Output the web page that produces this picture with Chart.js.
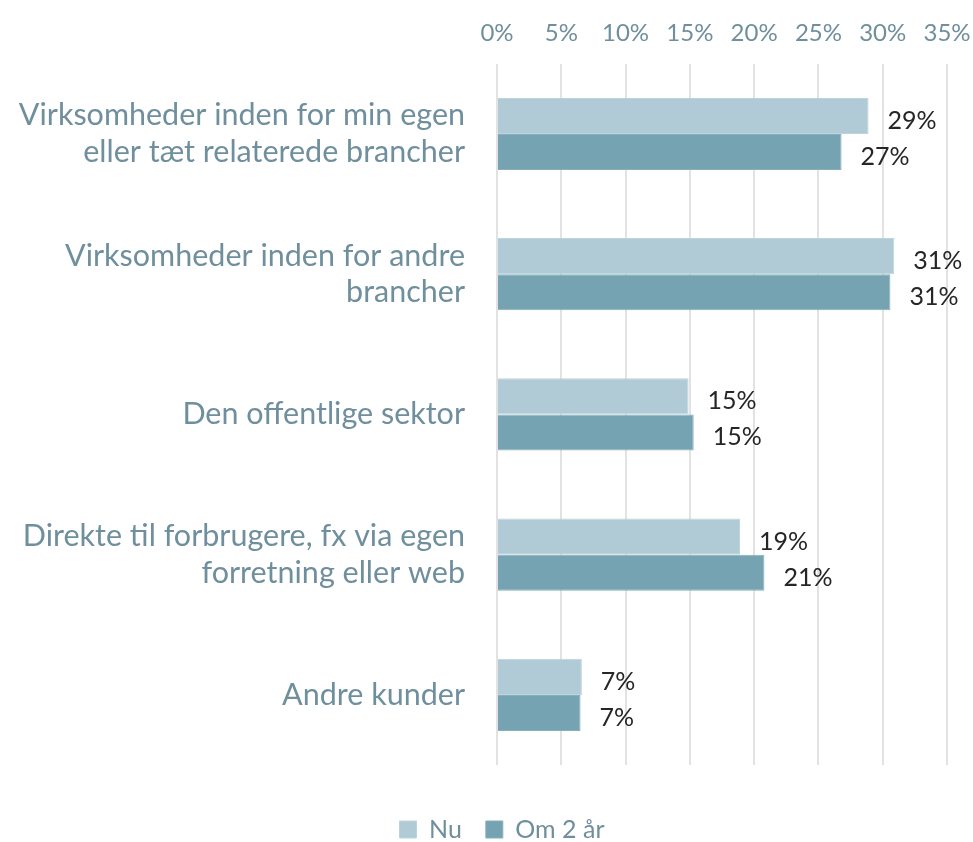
<!DOCTYPE html>
<html>
<head>
<meta charset="utf-8">
<script src="https://cdn.jsdelivr.net/npm/chart.js@4/dist/chart.umd.min.js"></script>
<style>
html,body{margin:0;padding:0;background:#fff;}
#wrap{width:973px;height:842px;position:relative;}
</style>
</head>
<body>
<div id="wrap"><canvas id="c" width="973" height="842"></canvas></div>
<script>
const categories = [
  ["Virksomheder inden for min egen", "eller tæt relaterede brancher"],
  ["Virksomheder inden for andre", "brancher"],
  "Den offentlige sektor",
  ["Direkte til forbrugere, fx via egen", "forretning eller web"],
  "Andre kunder"
];
const seriesNames = ["Nu", "Om 2 år"];
const nuValues = [28.9, 30.9, 14.9, 18.9, 6.6];
const om2Values = [26.8, 30.6, 15.3, 20.8, 6.5];
const nuLabels = ["29%", "31%", "15%", "19%", "7%"];
const om2Labels = ["27%", "31%", "15%", "21%", "7%"];
const tickValues = [0, 5, 10, 15, 20, 25, 30, 35];

const FONT = "Lato, 'Open Sans', sans-serif";
const labelColor = "#6f8f9d";

const barLabels = {
  id: 'barLabels',
  afterDatasetsDraw(chart) {
    const ctx = chart.ctx;
    const texts = [nuLabels, om2Labels];
    ctx.save();
    ctx.font = "25px " + FONT;
    ctx.fillStyle = "#262626";
    ctx.textAlign = "left";
    ctx.textBaseline = "middle";
    chart.data.datasets.forEach((ds, di) => {
      const meta = chart.getDatasetMeta(di);
      meta.data.forEach((el, i) => {
        ctx.fillText(texts[di][i], el.x + 19, el.y + 5);
      });
    });
    ctx.restore();
  }
};

const legendSpace = {
  id: 'legendSpace',
  afterInit(chart) {
    const lg = chart.legend;
    if (!lg) return;
    const orig = lg.fit;
    lg.fit = function () {
      orig.call(this);
      this.height = 77;
    };
  },
  afterLayout(chart) {
    const lg = chart.legend;
    if (!lg) return;
    lg.top += 28;
    lg.bottom += 28;
    lg.left += 20;
    lg.right += 20;
  }
};

new Chart(document.getElementById('c'), {
  type: 'bar',
  data: {
    labels: categories,
    datasets: [
      { label: seriesNames[0], data: nuValues, backgroundColor: "#b0cbd5", borderColor: "#bcd4dc", borderWidth: 1 },
      { label: seriesNames[1], data: om2Values, backgroundColor: "#75a3b1", borderColor: "#86b0bc", borderWidth: 1 }
    ]
  },
  options: {
    indexAxis: 'y',
    responsive: false,
    animation: false,
    layout: { padding: { top: 3, right: 26, bottom: 0, left: 17 } },
    datasets: { bar: { categoryPercentage: 0.514, barPercentage: 1.0 } },
    scales: {
      x: {
        position: 'top',
        min: 0, max: 35,
        afterBuildTicks(axis) { axis.ticks = tickValues.map(v => ({ value: v })); },
        afterFit(scale) { scale.paddingLeft = 0; scale.paddingRight = 0; },
        ticks: {
          callback: v => v + "%",
          color: labelColor,
          font: { size: 24, family: FONT },
          padding: 16,
          maxRotation: 0
        },
        grid: { color: "#e2e2e2", lineWidth: 2, drawTicks: false },
        border: { display: false }
      },
      y: {
        afterFit(scale) { scale.width = 480; },
        ticks: {
          color: labelColor,
          font: { size: 30.5, family: FONT, lineHeight: 1.21 },
          padding: 32
        },
        grid: { display: false, drawTicks: false },
        border: { display: false }
      }
    },
    plugins: {
      legend: {
        position: 'bottom',
        labels: {
          boxWidth: 17, boxHeight: 17,
          color: labelColor,
          font: { size: 25, family: FONT },
          padding: 24
        }
      },
      tooltip: { enabled: false }
    }
  },
  plugins: [barLabels, legendSpace]
});
</script>
</body>
</html>
